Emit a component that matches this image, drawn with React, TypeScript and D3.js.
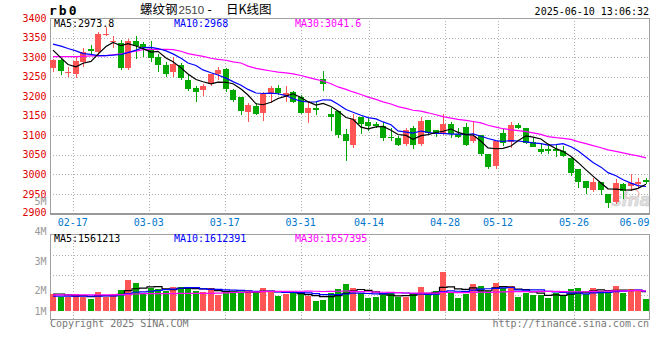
import React from 'react';
import * as d3 from 'd3';

// ---- data (rb0 daily, 80 sessions) ----
const opens = [3271,3292,3261,3257,3288,3320,3312,3356,3340,3337, 3273,3341,3333,3319,3301,3280,3261,3280,3242,3222, 3216,3231,3256,3269,3216,3197,3159,3174,3158,3206, 3222,3204,3210,3199,3158,3169,3244,3155,3161,3104, 3075,3147,3133,3129,3125,3096,3092,3079,3119,3079, 3140,3114,3106,3130,3103,3121,3085,3102,3053,3021, 3106,3082,3127,3119,3082,3065,3064,3064,3061,3042, 3013,2983,2959,2981,2949,2930,2976,2970,2975,2986];
const highs = [3296,3294,3275,3301,3322,3331,3364,3377,3354,3343, 3346,3353,3339,3341,3309,3288,3301,3284,3254,3227, 3232,3256,3275,3273,3219,3197,3182,3182,3212,3226, 3229,3225,3214,3203,3185,3184,3264,3171,3161,3117, 3155,3147,3144,3133,3133,3119,3097,3119,3125,3148, 3140,3114,3155,3133,3119,3131,3137,3102,3053,3085, 3117,3134,3131,3119,3093,3081,3072,3076,3072,3042, 3013,2983,2992,2981,2949,2989,2979,3002,2992,2992];
const lows = [3261,3254,3250,3247,3275,3309,3305,3354,3324,3267, 3267,3294,3301,3288,3261,3249,3250,3242,3214,3186, 3201,3226,3242,3210,3186,3153,3133,3153,3136,3182, 3203,3186,3182,3154,3131,3153,3214,3112,3093,3034, 3068,3103,3110,3119,3086,3085,3072,3072,3064,3072, 3102,3095,3102,3093,3092,3072,3081,3047,3015,3013, 3072,3068,3116,3078,3069,3051,3053,3044,3044,2996, 2966,2951,2956,2947,2914,2925,2936,2958,2966,2975];
const closes = [3292,3265,3262,3290,3312,3316,3358,3360,3341,3271, 3341,3329,3326,3297,3280,3256,3282,3247,3219,3210, 3227,3256,3267,3218,3191,3161,3178,3155,3206,3222, 3209,3209,3185,3158,3169,3165,3231,3146,3100,3086, 3142,3130,3125,3125,3092,3093,3075,3114,3076,3137, 3106,3103,3130,3104,3095,3076,3097,3051,3019,3085, 3081,3127,3119,3081,3069,3057,3061,3061,3047,3003, 2981,2966,2981,2960,2928,2977,2958,2977,2981,2981];
const volumes = [1570000,1480000,1480000,1570000,1480000,1400000,1640000,1480000,1570000,1700000, 2040000,1940000,1590000,1780000,1740000,1680000,1800000,1800000,1800000,1670000, 1640000,1780000,1540000,1650000,1620000,1590000,1700000,1590000,1780000,1670000, 1510000,1560000,1590000,1570000,1510000,1350000,1380000,1590000,1740000,1910000, 1780000,1590000,1450000,1480000,1540000,1590000,1480000,1480000,1570000,1800000, 1620000,1680000,2310000,1650000,1440000,1560000,1910000,1830000,1660000,1940000, 1760000,1830000,1480000,1590000,1550000,1550000,1440000,1590000,1500000,1740000, 1780000,1560000,1780000,1670000,1640000,1830000,1590000,1740000,1670000,1400000];

// moving-average values before enough sessions are on screen
const ma5Head = [3318, 3298, 3281, 3275];
const ma10Head = [3333, 3328, 3322, 3316, 3309, 3307, 3304, 3304, 3305];
const ma30Head = [3301,3301,3301,3301,3302,3303,3303,3304,3306,3308,3312,3315,3319,3320,3320,3320,3319,3315,3309,3305,3302,3297,3294,3292,3288,3285,3277,3271,3268];
const vma5Head = [1570000, 1570000, 1540000, 1510000];
const vma10Head = [1500000,1500000,1500000,1500000,1500000,1500000,1500000,1510000,1510000];
const vma30Head = [1540000,1540000,1540000,1540000,1540000,1540000,1540000,1540000,1540000,1550000,1560000,1570000,1580000,1580000,1580000,1580000,1580000,1590000,1590000,1590000,1590000,1590000,1600000,1610000,1620000,1620000,1630000,1640000,1650000];

const tickIndex = [3, 13, 23, 33, 42, 52, 59, 69, 78];
const tickLabels = ['02-17', '03-03', '03-17', '03-31', '04-14', '04-28', '05-12', '05-26', '06-09'];
const priceTicks = [3400, 3350, 3300, 3250, 3200, 3150, 3100, 3050, 3000, 2950, 2900];
const volTicks = [5000000, 4000000, 3000000, 2000000, 1000000];
const volTickLabels = ['5M', '4M', '3M', '2M', '1M'];

const maLabels = { ma5: 'MA5:2973.8', ma10: 'MA10:2968', ma30: 'MA30:3041.6' };
const vmaLabels = { ma5: 'MA5:1561213', ma10: 'MA10:1612391', ma30: 'MA30:1657395' };

const MONO = "'DejaVu Sans Mono', monospace";
const CJK = "'Noto Sans CJK SC', sans-serif";
const RED = '#ff5555';
const GREEN = '#00a800';
const GRID = '#b0b0b0';
const BORDER = '#a0a0a0';

function rolling(values: number[], period: number, head: number[]) {
  return values.map((_, i) =>
    i < period - 1 ? head[i] : (d3.mean(values.slice(i - period + 1, i + 1)) as number)
  );
}

export default function App() {
  const n = closes.length;
  const idx = d3.range(n);
  const left = 50, right = 649.5;
  const pTop = 18, pBottom = 213.5;
  const vTop = 234, vBottom = 319;

  const x = d3.scaleBand<number>().domain(idx).range([50, 650]).paddingInner(0.2).paddingOuter(0.1).align(0.3);
  const bw = Math.round(x.bandwidth());
  const bx = (i: number) => Math.round(x(i) as number);
  const cx = (i: number) => bx(i) + bw / 2;
  const xTick = d3.scaleLinear().domain([0, 79]).range([50, 650]);

  const y = d3.scaleLinear().domain([2900, 3400]).range([pBottom, pTop]);
  const vy = d3.scaleLinear().domain([1000000, 3600000]).range([311, 311 - 2.6 * 29.8]);
  const vGrid = d3.scaleLinear().domain([0, 4]).range([235.3, 315.3]);

  const ma5 = rolling(closes, 5, ma5Head);
  const ma10 = rolling(closes, 10, ma10Head);
  const ma30 = rolling(closes, 30, ma30Head);
  const vma5 = rolling(volumes, 5, vma5Head);
  const vma10 = rolling(volumes, 10, vma10Head);
  const vma30 = rolling(volumes, 30, vma30Head);

  const priceLine = d3.line<number>().x((_, i) => cx(i)).y((d) => y(d));
  const volLine = d3.line<number>().x((_, i) => cx(i)).y((d) => vy(d)).curve(d3.curveStep);

  const isUp = (i: number) => closes[i] >= opens[i];
  const snap = (v: number) => Math.round(v) + 0.5;

  return (
    <svg width={660} height={360} style={{ position: 'absolute', left: 0, top: 0, background: '#fff' }}>
      <rect x={0} y={0} width={660} height={360} fill="#fff" />

      {/* header */}
      <text x={49} y={15} fontFamily={MONO} fontWeight="bold" fontSize={13} letterSpacing={2} fill="#000">rb0</text>
      <text x={140} y={14} fontFamily={CJK} fontSize={12.5} fill="#000">螺纹钢</text>
      <text x={178.5} y={14} fontFamily="'Liberation Sans', sans-serif" fontSize={11.5} fill="#444">2510</text>
      <text x={206} y={14} fontFamily={MONO} fontSize={12} fill="#000">-</text>
      <text x={226} y={14} fontFamily={CJK} fontSize={12.5} fill="#000">日K线图</text>
      <text x={649} y={15} textAnchor="end" fontFamily={MONO} fontSize={10} fill="#000">2025-06-10 13:06:32</text>

      {/* watermark */}
      <g opacity={0.75}>
        <ellipse cx={632} cy={194} rx={7} ry={5} fill="none" stroke="#f2a5a5" strokeWidth={1.5} />
        <text x={651} y={206} textAnchor="end" fontFamily="'DejaVu Sans', sans-serif" fontStyle="italic" fontWeight="bold" fontSize={17} fill="#d4d4d4" stroke="#bbb" strokeWidth={0.5}>sina</text>
      </g>

      {/* price grid */}
      <g shapeRendering="crispEdges">
        {priceTicks.filter((t) => t !== 3400 && t !== 2900).map((t) => (
          <line key={'pg' + t} x1={left} x2={right} y1={snap(y(t))} y2={snap(y(t))} stroke={GRID} strokeDasharray="1,2" />
        ))}
        {tickIndex.slice(0, -1).map((t) => (
          <g key={'vg' + t}>
            <line x1={snap(xTick(t))} x2={snap(xTick(t))} y1={pTop} y2={pBottom} stroke={GRID} strokeDasharray="1,2" />
            <line x1={snap(xTick(t))} x2={snap(xTick(t))} y1={vTop} y2={vBottom} stroke={GRID} strokeDasharray="1,2" />
          </g>
        ))}
        {[1, 2, 3].map((k) => (
          <line key={'vh' + k} x1={left} x2={right} y1={snap(vGrid(k))} y2={snap(vGrid(k))} stroke={GRID} strokeDasharray="1,2" />
        ))}
        <rect x={left + 0.5} y={pTop + 0.5} width={right - left - 0.5} height={pBottom - pTop} fill="none" stroke={BORDER} />
        <line x1={left} x2={right} y1={pBottom + 0.5} y2={pBottom + 0.5} stroke="#999" strokeWidth={2} />
        <rect x={left + 0.5} y={vTop + 0.5} width={right - left - 0.5} height={vBottom - vTop} fill="none" stroke={BORDER} />
      </g>

      {/* volume bars */}
      <g shapeRendering="crispEdges">
        {idx.map((i) => {
          const top = Math.round(vy(volumes[i]));
          return <rect key={'v' + i} x={bx(i)} y={top} width={bw} height={311 - top} fill={isUp(i) ? RED : GREEN} />;
        })}
      </g>
      <g fill="none" strokeWidth={1.2}>
        <path d={volLine(vma5) || ''} stroke="#000" />
        <path d={volLine(vma10) || ''} stroke="#0000ff" />
        <path d={volLine(vma30) || ''} stroke="#ff00ff" />
      </g>

      {/* candles */}
      <g shapeRendering="crispEdges">
        {idx.map((i) => {
          const c = isUp(i) ? RED : GREEN;
          const yTop = Math.round(y(Math.max(opens[i], closes[i])));
          const yBot = Math.round(y(Math.min(opens[i], closes[i])));
          const hT = Math.round(y(highs[i]));
          const lB = Math.round(y(lows[i]));
          return (
            <g key={'c' + i}>
              <rect x={bx(i) + Math.floor(bw / 2)} y={hT} width={1} height={Math.max(1, lB - hT)} fill={c} />
              <rect x={bx(i)} y={yTop} width={bw} height={Math.max(1, yBot - yTop)} fill={c} />
            </g>
          );
        })}
      </g>

      {/* price moving averages */}
      <g fill="none" strokeWidth={1.2}>
        <path d={priceLine(ma30) || ''} stroke="#ff00ff" />
        <path d={priceLine(ma10) || ''} stroke="#0000ff" />
        <path d={priceLine(ma5) || ''} stroke="#000" />
      </g>

      {/* axis labels */}
      <g fontFamily={MONO} fontSize={10} fill="#e00000" textAnchor="end">
        {priceTicks.map((t) => (
          <text key={'pl' + t} x={46.5} y={Math.min(y(t), 212.5) + 3.6}>{t}</text>
        ))}
      </g>
      <g fontFamily={MONO} fontSize={10} fill="#999" textAnchor="end">
        {volTicks.map((t, k) => (
          <text key={'vl' + t} x={46.5} y={Math.min(vy(t) + 9.5, 311) + 3.6}>{volTickLabels[k]}</text>
        ))}
      </g>
      <g fontFamily={MONO} fontSize={10} fill="#0077cc" textAnchor="middle">
        {tickIndex.map((t, k) => (
          <text key={'xl' + t} x={Math.min(xTick(t), 634.5)} y={225.5}>{tickLabels[k]}</text>
        ))}
      </g>

      {/* MA legends */}
      <g fontFamily={MONO} fontSize={10}>
        <text x={54} y={26.5} fill="#000">{maLabels.ma5}</text>
        <text x={174} y={26.5} fill="#0000ff">{maLabels.ma10}</text>
        <text x={295} y={26.5} fill="#ff00ff">{maLabels.ma30}</text>
        <text x={54} y={241.8} fill="#000">{vmaLabels.ma5}</text>
        <text x={174} y={241.8} fill="#0000ff">{vmaLabels.ma10}</text>
        <text x={295} y={241.8} fill="#ff00ff">{vmaLabels.ma30}</text>
      </g>

      {/* footer */}
      <text x={50} y={327} fontFamily={MONO} fontSize={10} fill="#777">Copyright 2025 SINA.COM</text>
      <text x={649} y={327} textAnchor="end" fontFamily={MONO} fontSize={10} fill="#777">http://finance.sina.com.cn</text>
    </svg>
  );
}
